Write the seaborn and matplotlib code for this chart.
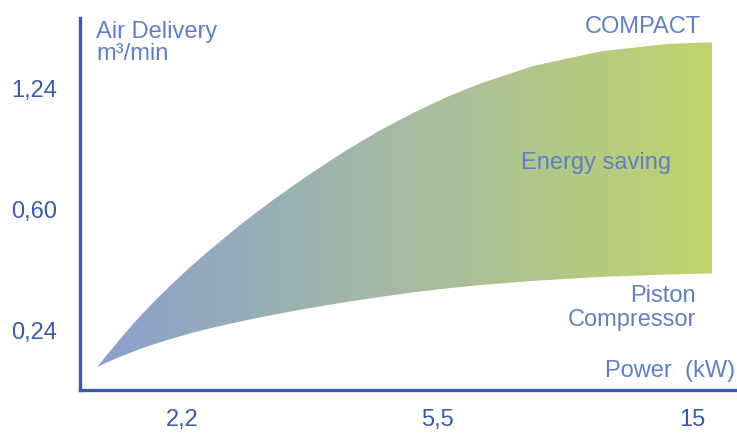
import numpy as np
import pandas as pd
import matplotlib
matplotlib.use("Agg")
import matplotlib.pyplot as plt
import seaborn as sns
from matplotlib.colors import LinearSegmentedColormap

# axis ticks (positions are tick index units)
x_ticks = [0, 1, 2]
x_labels = ["2,2", "5,5", "15"]
y_ticks = [0, 1, 2]
y_labels = ["0,24", "0,60", "1,24"]

# band edges, in tick index units
power = [-0.333, -0.282, -0.231, -0.165, -0.098, -0.035, 0.031, 0.098, 0.161, 0.227,
         0.294, 0.357, 0.424, 0.514, 0.647, 0.776, 0.906, 1.039, 1.169, 1.376,
         1.639, 1.902, 2.078]
compact = [-0.306, -0.174, -0.045, 0.113, 0.260, 0.390, 0.519, 0.643, 0.754, 0.868,
           0.978, 1.077, 1.178, 1.309, 1.492, 1.653, 1.798, 1.930, 2.041, 2.186,
           2.307, 2.369, 2.383]
piston = [-0.306, -0.256, -0.211, -0.157, -0.109, -0.068, -0.028, 0.008, 0.040, 0.070,
          0.100, 0.126, 0.153, 0.187, 0.233, 0.274, 0.312, 0.345, 0.373, 0.407,
          0.440, 0.460, 0.469]

df = pd.DataFrame({"power": power, "compact": compact, "piston": piston})

sns.set_theme(style="white")
plt.rcParams["font.family"] = ["Liberation Sans", "DejaVu Sans"]

axis_blue = "#3a5ca8"
text_blue = "#5f80c2"

fig = plt.figure(figsize=(7.37, 4.34), dpi=100)
ax = fig.add_axes([0.1085, 0.1014, 0.8915, 0.858])

sns.lineplot(data=df, x="power", y="compact", ax=ax, lw=0)
sns.lineplot(data=df, x="power", y="piston", ax=ax, lw=0)

band = ax.fill_between(df["power"], df["piston"], df["compact"], color="none", lw=0)

grad = LinearSegmentedColormap.from_list("band", ["#8aa0cd", "#a6bba2", "#c0d36c"])
x0, x1 = df["power"].min(), df["power"].max()
y0, y1 = df["piston"].min(), df["compact"].max()
img = ax.imshow(np.linspace(0, 1, 256).reshape(1, -1), cmap=grad, aspect="auto",
                extent=[x0, x1, y0, y1], origin="lower", zorder=2)
img.set_clip_path(band.get_paths()[0], transform=ax.transData)

ax.set_xlim(-0.40, 2.176)
ax.set_ylim(-0.496, 2.587)

ax.set_xticks(x_ticks)
ax.set_xticklabels(x_labels)
ax.set_yticks(y_ticks)
ax.set_yticklabels(y_labels)
ax.tick_params(axis="both", length=0, labelsize=17, labelcolor=axis_blue)
ax.tick_params(axis="x", pad=14)
ax.tick_params(axis="y", pad=16.5)
ax.set_xlabel("")
ax.set_ylabel("")

for side in ["top", "right"]:
    ax.spines[side].set_visible(False)
for side in ["left", "bottom"]:
    ax.spines[side].set_color(axis_blue)
    ax.spines[side].set_linewidth(2.4)

txt = dict(color=text_blue, fontsize=17)
fig.text(96 / 737, 1 - 38 / 434, "Air Delivery", ha="left", va="baseline", **txt)
fig.text(96 / 737, 1 - 60 / 434, "m³/min", ha="left", va="baseline", **txt)
fig.text(701 / 737, 1 - 33 / 434, "COMPACT", ha="right", va="baseline", **txt)
fig.text(596 / 737, 1 - 169 / 434, "Energy saving", ha="center", va="baseline", **txt)
fig.text(696 / 737, 1 - 302 / 434, "Piston", ha="right", va="baseline", **txt)
fig.text(696 / 737, 1 - 326 / 434, "Compressor", ha="right", va="baseline", **txt)
fig.text(735 / 737, 1 - 377 / 434, "Power  (kW)", ha="right", va="baseline", **txt)

fig.savefig("out.png", dpi=100)
